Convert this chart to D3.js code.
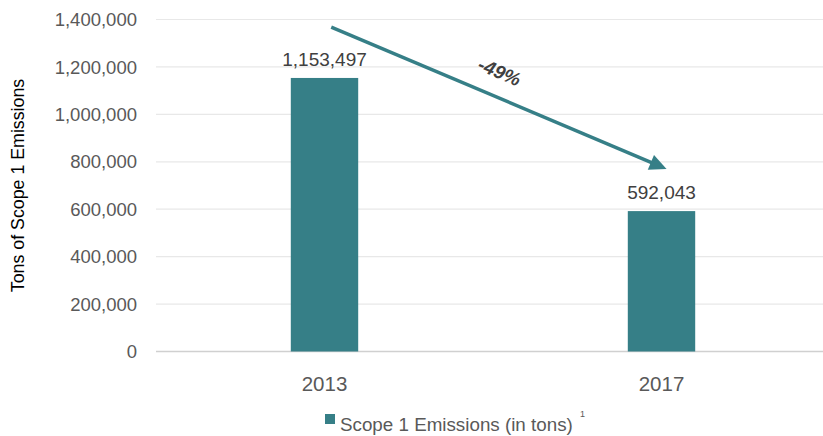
<!DOCTYPE html>
<html>
<head>
<meta charset="utf-8">
<script src="https://cdnjs.cloudflare.com/ajax/libs/d3/7.8.5/d3.min.js"></script>
<style>
  body { margin: 0; background: #fff; }
  text { font-family: "Liberation Sans", Arial, sans-serif; }
</style>
</head>
<body>
<script>
// chart data
const years = ["2013", "2017"]
const emissions = [1153497, 592043]
const yTicks = [0, 200000, 400000, 600000, 800000, 1000000, 1200000, 1400000]
const seriesName = "Scope 1 Emissions (in tons)"
const changeLabel = "-49%"
// arrow annotation: [year, position inside band (0..1), value]
const arrowFrom = ["2013", 0.52, 1368000]
const arrowTo = ["2017", 0.515, 770000]

const w = 823
const h = 436
const teal = "#367f87"

const svg = d3.select("body")
              .append("svg")
              .attr("width", w)
              .attr("height", h)

const x = d3.scaleBand()
            .domain(years)
            .range([156, 830])
const y = d3.scaleLinear()
            .domain([0, 1400000])
            .range([351.5, 19.5])

const fmt = d3.format(",")

// gridlines
svg.selectAll("line.grid")
   .data(yTicks)
   .enter()
   .append("line")
   .attr("class", "grid")
   .attr("x1", 156)
   .attr("x2", w)
   .attr("y1", d => y(d))
   .attr("y2", d => y(d))
   .attr("stroke", d => d === 0 ? "#d0d0d0" : "#e8e8e8")
   .attr("stroke-width", d => d === 0 ? 1.5 : 1.2)

// y tick labels
svg.selectAll("text.ytick")
   .data(yTicks)
   .enter()
   .append("text")
   .attr("class", "ytick")
   .attr("x", 137)
   .attr("y", d => y(d))
   .attr("dy", "0.36em")
   .attr("text-anchor", "end")
   .attr("font-size", 18.5)
   .attr("fill", "#595959")
   .text(d => fmt(d))

// y title
svg.append("text")
   .attr("transform", "translate(24," + y(700000) + ") rotate(-90)")
   .attr("text-anchor", "middle")
   .attr("font-size", 17.8)
   .attr("fill", "#000")
   .text("Tons of Scope 1 Emissions")

// bars
const barW = x.bandwidth() * 0.2
svg.selectAll("rect.bar")
   .data(emissions)
   .enter()
   .append("rect")
   .attr("class", "bar")
   .attr("x", (d, i) => x(years[i]) + x.bandwidth() / 2 - barW / 2)
   .attr("y", d => y(d))
   .attr("width", barW)
   .attr("height", d => y(0) - y(d))
   .attr("fill", teal)

// value labels
svg.selectAll("text.val")
   .data(emissions)
   .enter()
   .append("text")
   .attr("class", "val")
   .attr("x", (d, i) => x(years[i]) + x.bandwidth() / 2)
   .attr("y", d => y(d) - 12)
   .attr("text-anchor", "middle")
   .attr("font-size", 19)
   .attr("fill", "#404040")
   .text(d => fmt(d))

// x labels
svg.selectAll("text.xl")
   .data(years)
   .enter()
   .append("text")
   .attr("class", "xl")
   .attr("x", d => x(d) + x.bandwidth() / 2)
   .attr("y", 391)
   .attr("text-anchor", "middle")
   .attr("font-size", 20.5)
   .attr("fill", "#595959")
   .text(d => d)

// arrow
const x1 = x(arrowFrom[0]) + x.bandwidth() * arrowFrom[1]
const y1 = y(arrowFrom[2])
const x2 = x(arrowTo[0]) + x.bandwidth() * arrowTo[1]
const y2 = y(arrowTo[2])
const ang = Math.atan2(y2 - y1, x2 - x1)
const headL = 17
const headW = 8
const bx = x2 - headL * Math.cos(ang)
const by = y2 - headL * Math.sin(ang)
svg.append("line")
   .attr("x1", x1)
   .attr("y1", y1)
   .attr("x2", bx + 2 * Math.cos(ang))
   .attr("y2", by + 2 * Math.sin(ang))
   .attr("stroke", teal)
   .attr("stroke-width", 3.5)
svg.append("path")
   .attr("d", "M" + x2 + "," + y2 +
              "L" + (bx - headW * Math.sin(ang)) + "," + (by + headW * Math.cos(ang)) +
              "L" + (bx + headW * Math.sin(ang)) + "," + (by - headW * Math.cos(ang)) + "Z")
   .attr("fill", teal)

// change label
const deg = ang * 180 / Math.PI
svg.append("text")
   .attr("transform", "translate(" + 497 + "," + 78 + ") rotate(" + deg + ")")
   .attr("text-anchor", "middle")
   .attr("font-size", 19)
   .attr("font-weight", "bold")
   .attr("font-style", "italic")
   .attr("fill", "#404040")
   .text(changeLabel)

// legend
svg.append("rect")
   .attr("x", 325)
   .attr("y", 414)
   .attr("width", 10)
   .attr("height", 10)
   .attr("fill", teal)
svg.append("text")
   .attr("x", 340)
   .attr("y", 431)
   .attr("font-size", 18.8)
   .attr("fill", "#595959")
   .text(seriesName)
svg.append("text")
   .attr("x", 580)
   .attr("y", 417)
   .attr("font-size", 9)
   .attr("fill", "#595959")
   .text("1")
</script>
</body>
</html>
